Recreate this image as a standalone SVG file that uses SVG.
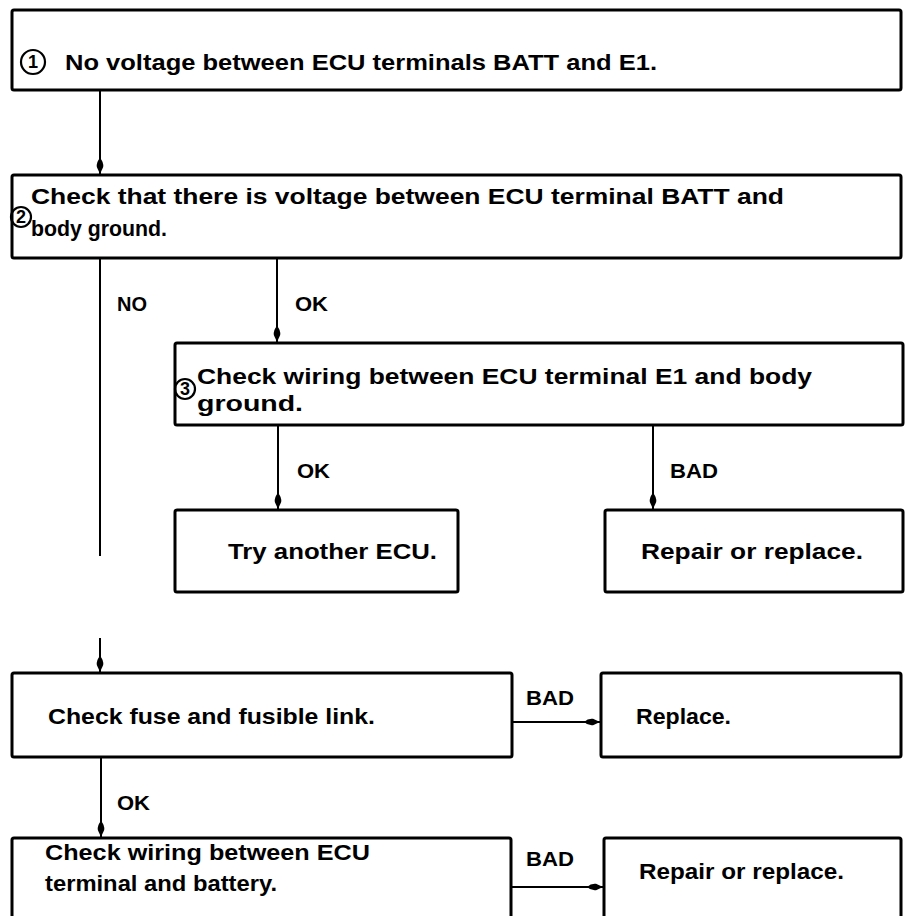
<svg xmlns="http://www.w3.org/2000/svg" width="908" height="916" viewBox="0 0 908 916">
  <style>
    .box { fill: #fff; stroke: #000; stroke-width: 3; }
    .t { font-family: "Liberation Sans", Arial, sans-serif; font-weight: bold; font-size: 22px; fill: #000; }
    .lbl { font-family: "Liberation Sans", Arial, sans-serif; font-weight: bold; font-size: 20px; fill: #000; }
    .num { fill: none; stroke: #000; stroke-width: 2.2; }
    .numt { font-family: "Liberation Sans", Arial, sans-serif; font-weight: bold; font-size: 18px; fill: #000; text-anchor: middle; }
    .wire { stroke: #000; stroke-width: 2; fill: none; }
  </style>
  <defs>
    <marker id="arrow" markerUnits="userSpaceOnUse" markerWidth="18" markerHeight="10" viewBox="-16 -5 18 10" refX="0" refY="0" orient="auto">
      <path d="M-16,0 Q-12,-3.8 -7,-3.2 L0,0 L-7,3.2 Q-12,3.8 -16,0Z" fill="#000"/>
    </marker>
  </defs>
  <rect width="908" height="916" fill="#fff"/>

  <!-- connectors -->
  <g id="connectors">
    <line class="wire" x1="100" y1="90" x2="100" y2="174" marker-end="url(#arrow)"/>
    <line class="wire" x1="100" y1="258" x2="100" y2="556"/>
    <line class="wire" x1="100" y1="638" x2="100" y2="672" marker-end="url(#arrow)"/>
    <line class="wire" x1="277" y1="258" x2="277" y2="342" marker-end="url(#arrow)"/>
    <line class="wire" x1="278" y1="425" x2="278" y2="509" marker-end="url(#arrow)"/>
    <line class="wire" x1="653" y1="425" x2="653" y2="509" marker-end="url(#arrow)"/>
    <line class="wire" x1="512" y1="722" x2="600" y2="722" marker-end="url(#arrow)"/>
    <line class="wire" x1="101" y1="757" x2="101" y2="837" marker-end="url(#arrow)"/>
    <line class="wire" x1="511" y1="887" x2="603" y2="887" marker-end="url(#arrow)"/>
    <text class="lbl" x="117" y="311" textLength="30" lengthAdjust="spacingAndGlyphs">NO</text>
    <text class="lbl" x="295" y="311" textLength="33" lengthAdjust="spacingAndGlyphs">OK</text>
    <text class="lbl" x="297" y="478" textLength="33" lengthAdjust="spacingAndGlyphs">OK</text>
    <text class="lbl" x="670" y="478" textLength="48" lengthAdjust="spacingAndGlyphs">BAD</text>
    <text class="lbl" x="526" y="705" textLength="48" lengthAdjust="spacingAndGlyphs">BAD</text>
    <text class="lbl" x="117" y="810" textLength="33" lengthAdjust="spacingAndGlyphs">OK</text>
    <text class="lbl" x="526" y="866" textLength="48" lengthAdjust="spacingAndGlyphs">BAD</text>
  </g>

  <g id="step1">
    <rect class="box" x="12" y="10" width="889" height="80" rx="2"/>
    <circle class="num" cx="33" cy="62" r="12"/>
    <text class="numt" x="33" y="68">1</text>
    <text class="t" x="65" y="70" textLength="592" lengthAdjust="spacingAndGlyphs">No voltage between ECU terminals BATT and E1.</text>
  </g>

  <g id="step2">
    <rect class="box" x="12" y="175" width="889" height="83" rx="2"/>
    <circle class="num" cx="21" cy="217" r="10"/>
    <text class="numt" x="21" y="223">2</text>
    <text class="t" x="31" y="204" textLength="753" lengthAdjust="spacingAndGlyphs">Check that there is voltage between ECU terminal BATT and</text>
    <text class="t" x="31" y="236" textLength="136" lengthAdjust="spacingAndGlyphs">body ground.</text>
  </g>

  <g id="step3">
    <rect class="box" x="175" y="343" width="728" height="82" rx="2"/>
    <circle class="num" cx="185" cy="389" r="10"/>
    <text class="numt" x="185" y="395">3</text>
    <text class="t" x="197" y="384" textLength="615" lengthAdjust="spacingAndGlyphs">Check wiring between ECU terminal E1 and body</text>
    <text class="t" x="197" y="411" textLength="106" lengthAdjust="spacingAndGlyphs">ground.</text>
  </g>

  <g id="try-ecu">
    <rect class="box" x="175" y="510" width="283" height="82" rx="2"/>
    <text class="t" x="228" y="559" textLength="209" lengthAdjust="spacingAndGlyphs">Try another ECU.</text>
  </g>

  <g id="repair-1">
    <rect class="box" x="605" y="510" width="298" height="82" rx="2"/>
    <text class="t" x="641" y="559" textLength="222" lengthAdjust="spacingAndGlyphs">Repair or replace.</text>
  </g>

  <g id="check-fuse">
    <rect class="box" x="12" y="673" width="500" height="84" rx="2"/>
    <text class="t" x="48" y="724" textLength="327" lengthAdjust="spacingAndGlyphs">Check fuse and fusible link.</text>
  </g>

  <g id="replace">
    <rect class="box" x="601" y="673" width="300" height="84" rx="2"/>
    <text class="t" x="636" y="724" textLength="95" lengthAdjust="spacingAndGlyphs">Replace.</text>
  </g>

  <g id="check-wiring">
    <rect class="box" x="12" y="838" width="499" height="100" rx="2"/>
    <text class="t" x="45" y="860" textLength="325" lengthAdjust="spacingAndGlyphs">Check wiring between ECU</text>
    <text class="t" x="45" y="891" textLength="232" lengthAdjust="spacingAndGlyphs">terminal and battery.</text>
  </g>

  <g id="repair-2">
    <rect class="box" x="604" y="838" width="297" height="100" rx="2"/>
    <text class="t" x="639" y="879" textLength="205" lengthAdjust="spacingAndGlyphs">Repair or replace.</text>
  </g>
</svg>
